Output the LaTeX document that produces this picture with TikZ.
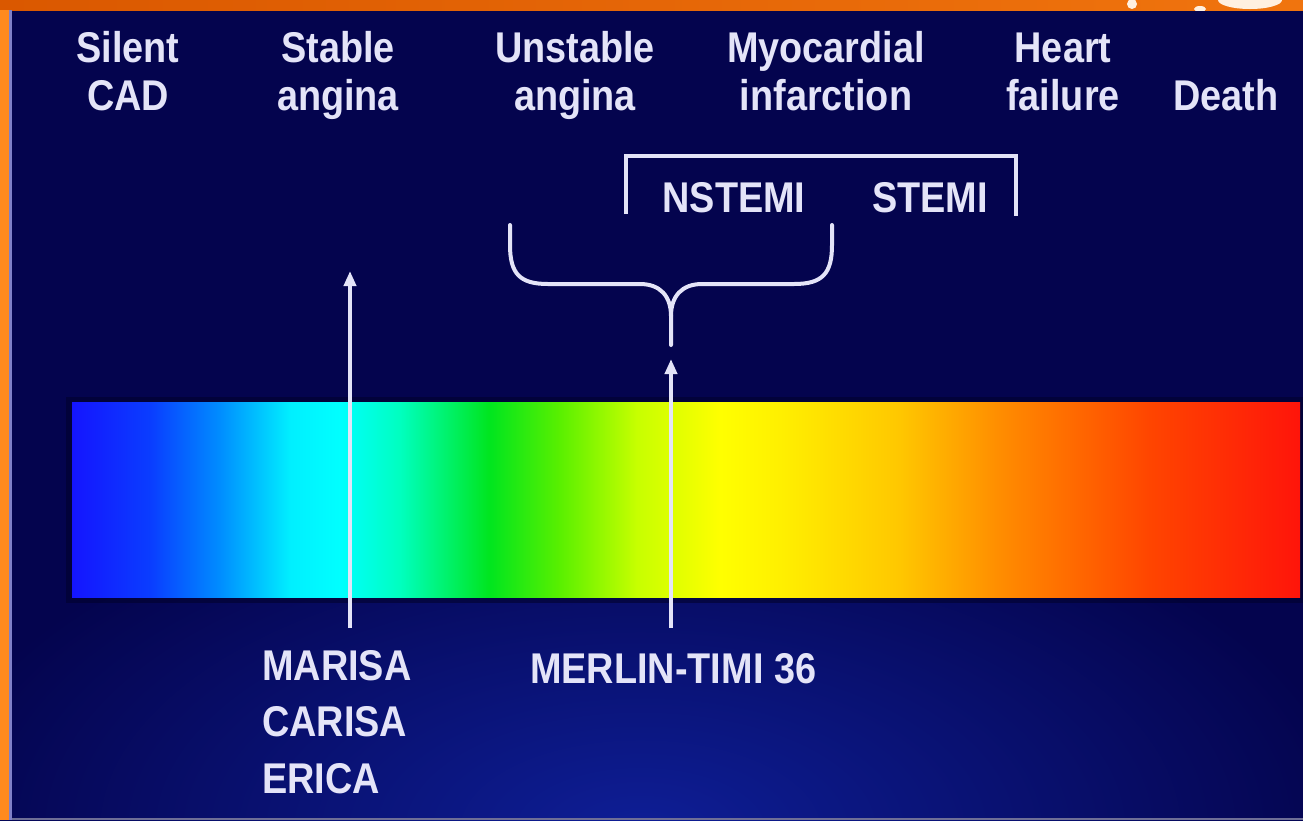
\documentclass[tikz,border=0pt]{standalone}
\usepackage{fontspec}
\setmainfont{Liberation Sans}[FakeStretch=0.88]
\usetikzlibrary{arrows.meta}
\definecolor{bgbase}{RGB}{4,4,78}
\definecolor{bgglow}{RGB}{14,30,150}
\definecolor{ink}{RGB}{228,228,248}
\definecolor{frameA}{RGB}{218,88,0}
\definecolor{frameB}{RGB}{255,138,30}
\definecolor{frameC}{RGB}{240,116,14}
\definecolor{edgeline}{RGB}{128,128,200}
\definecolor{barshadow}{RGB}{2,2,45}
\definecolor{footline}{RGB}{110,110,150}
\pgfdeclarehorizontalshading{spectrum}{100bp}{%
 rgb(0bp)=(0.08,0.08,1);
 rgb(25bp)=(0.08,0.08,1);
 rgb(28.2bp)=(0.04,0.24,1);
 rgb(31bp)=(0,0.55,1);
 rgb(33.9bp)=(0,0.94,1);
 rgb(35.9bp)=(0,1,1);
 rgb(38.35bp)=(0,1,0.75);
 rgb(42bp)=(0,0.9,0.12);
 rgb(44.85bp)=(0.35,0.94,0);
 rgb(48bp)=(0.78,1,0);
 rgb(51.4bp)=(1,1,0);
 rgb(53.85bp)=(1,0.94,0);
 rgb(58.7bp)=(1,0.78,0);
 rgb(62.8bp)=(1,0.55,0);
 rgb(68.9bp)=(1,0.27,0);
 rgb(75bp)=(1,0.08,0.04);
 rgb(100bp)=(1,0.08,0.04)}
\tikzset{
  lbl/.style={text=ink, font=\fontsize{43}{48}\selectfont\bfseries, inner sep=0pt, align=center},
  trial/.style={text=ink, font=\fontsize{43}{56.5}\selectfont\bfseries, inner sep=0pt, align=left},
  stroke/.style={draw=ink, line width=4pt},
  arr/.style={stroke, -{Triangle[width=12pt,length=15pt]}},
}
\begin{document}
\begin{tikzpicture}[x=1pt,y=-1pt]
\useasboundingbox (0,0) rectangle (1303,820);
% background
\begin{scope}
  \clip (0,0) rectangle (1303,820);
  \fill[bgbase] (0,0) rectangle (1303,820);
  \shade[inner color=bgglow, outer color=bgbase] (640,830) ellipse [x radius=720pt, y radius=360pt];
  % frame
  \shade[left color=frameA, right color=frameC] (0,0) rectangle (1303,10);
  \begin{scope}
    \clip (0,0) rectangle (1303,10);
    \fill[white!88!orange] (1250,0) ellipse [x radius=32pt, y radius=9pt];
    \fill[white!88!orange] (1132,4) ellipse [x radius=5pt, y radius=5pt];
    \fill[white!88!orange] (1200,9) ellipse [x radius=6pt, y radius=3pt];
  \end{scope}
  \fill[frameB] (0,10) rectangle (9,820);
  \fill[edgeline] (9,10) rectangle (12,820);
  \fill[footline] (12,818) rectangle (1303,820);
\end{scope}
% spectrum bar
\fill[barshadow, opacity=0.6] (66,397) rectangle (1303,603);
\shade[shading=spectrum] (72,402) rectangle (1300,597);
% header labels (base anchor = baseline of last line)
\node[lbl, anchor=base] (silent)   at (128,110)  {Silent\\CAD};
\node[lbl, anchor=base] (stable)   at (338,110)  {Stable\\angina};
\node[lbl, anchor=base] (unstable) at (575,110)  {Unstable\\angina};
\node[lbl, anchor=base] (mi)       at (826,110)  {Myocardial\\infarction};
\node[lbl, anchor=base] (hf)       at (1063,110) {Heart\\failure};
\node[lbl, anchor=base] (death)    at (1226,110) {Death};
% MI subtypes
\node[lbl, anchor=base] (nstemi) at (734,212) {NSTEMI};
\node[lbl, anchor=base] (stemi)  at (930,212) {STEMI};
\draw[stroke, line cap=butt, line join=miter] (626,214) -- (626,156) -- (1016,156) -- (1016,216);
% brace
\draw[stroke, line cap=round] (510,225) -- (510,245) .. controls (510,274) and (520,284) .. (548,284) -- (640,284) .. controls (660,284) and (671,296) .. (671,316) -- (671,345);
\draw[stroke, line cap=round] (832,225) -- (832,245) .. controls (832,274) and (822,284) .. (794,284) -- (702,284) .. controls (682,284) and (671,296) .. (671,316);
% trials
\node[trial, anchor=base west] (marisa) at (262,793) {MARISA\\CARISA\\ERICA};
\node[trial, anchor=base west] (merlin) at (530,683) {MERLIN-TIMI 36};
\coordinate (marisaFoot) at (350,628);
\coordinate (marisaTip)  at (350,271);
\coordinate (merlinFoot) at (671,628);
\coordinate (merlinTip)  at (671,359);
\draw[arr] (marisaFoot) -- (marisaTip);
\draw[arr] (merlinFoot) -- (merlinTip);
\end{tikzpicture}
\end{document}
